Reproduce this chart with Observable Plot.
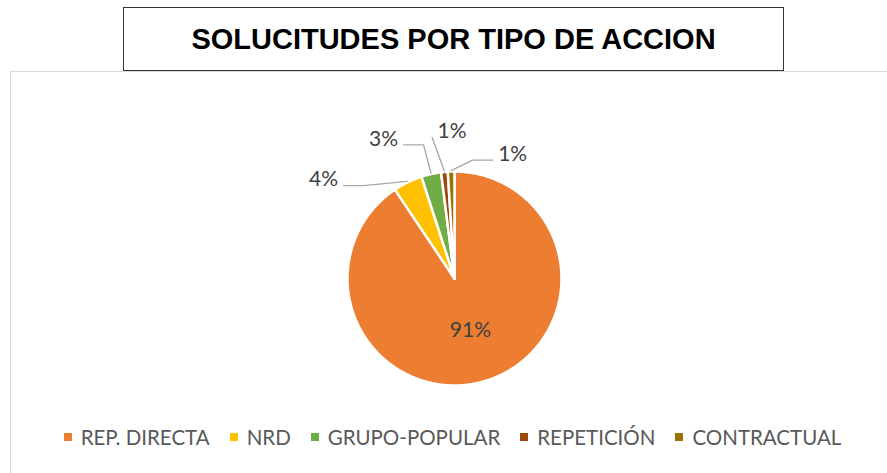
<!DOCTYPE html>
<html>
<head>
<meta charset="utf-8">
<script src="https://cdn.jsdelivr.net/npm/d3@7"></script>
<script src="https://cdn.jsdelivr.net/npm/@observablehq/plot@0.6"></script>
<style>
  body { margin: 0; background: #fff; }
  #wrap { position: relative; width: 887px; height: 473px; overflow: hidden; font-family: Lato, "Open Sans", sans-serif; }
  #frame { position: absolute; left: 10px; top: 71px; width: 900px; height: 420px; border: 1px solid #d9d9d9; box-sizing: border-box; }
  #chart { position: absolute; left: 0; top: 72px; }
  #title { position: absolute; left: 123px; top: 7px; width: 661px; height: 64px; box-sizing: border-box;
           border: 1.5px solid #333; background: #fff; display: flex; align-items: center; justify-content: center;
           font: bold 29px "Liberation Sans", Arial, sans-serif; color: #000; z-index: 2; }
  #legend { position: absolute; left: 0; top: 426px; width: 887px; display: flex; justify-content: center; gap: 20px;
            font: 20.5px Lato, sans-serif; color: #595959; line-height: 22px; padding-left: 18px; box-sizing: border-box; }
  .item { display: flex; align-items: center; white-space: nowrap; }
  .sw { width: 8px; height: 8px; margin-right: 9px; }
</style>
</head>
<body>
<div id="wrap">
  <div id="frame"></div>
  <div id="chart"></div>
  <div id="title"></div>
  <div id="legend"></div>
</div>
<script>
// ---- data ----
const titleText = "SOLUCITUDES POR TIPO DE ACCION";
const categories = ["REP. DIRECTA", "NRD", "GRUPO-POPULAR", "REPETICIÓN", "CONTRACTUAL"];
const values = [90.6, 4.4, 3.0, 1.0, 1.0];
const colors = ["#ED7D31", "#FFC000", "#70AD47", "#9E480E", "#997300"];

// ---- build ----
document.getElementById("title").textContent = titleText;

const R = 107;            // pie radius
const W = 887, H = 345;
const data = categories.map((c, i) => ({cat: c, value: values[i]}));
const total = d3.sum(values);
const arcs = d3.pie().sort(null).value(d => d.value)(data);

// slice polygons
const poly = [];
arcs.forEach(a => {
  const cat = a.data.cat;
  poly.push({cat, x: 0, y: 0});
  const n = Math.max(2, Math.ceil((a.endAngle - a.startAngle) / (Math.PI / 360)));
  for (let k = 0; k <= n; k++) {
    const t = a.startAngle + (a.endAngle - a.startAngle) * k / n;
    poly.push({cat, x: R * Math.sin(t), y: R * Math.cos(t)});
  }
  poly.push({cat, x: 0, y: 0});
});

// labels
const pct = a => Math.round(a.data.value / total * 100) + "%";
const inside = [], outside = [], leaders = [];
const small = arcs.filter(a => a.data.value / total < 0.1);
const meanMid = d3.mean(small, a => (a.startAngle + a.endAngle) / 2);
const deg = Math.PI / 180;
const sep = 26 * deg, rot = -2.5 * deg;
arcs.forEach(a => {
  const mid = (a.startAngle + a.endAngle) / 2;
  if (a.data.value / total >= 0.1) {
    inside.push({x: 0.51 * R * Math.sin(mid), y: 0.51 * R * Math.cos(mid), text: pct(a)});
  }
});
small.forEach((a, i) => {
  const mid = (a.startAngle + a.endAngle) / 2;
  const th = meanMid + rot + (i - (small.length - 1) / 2) * sep;
  const ux = Math.sin(th), uy = Math.cos(th);
  const rho = 1.37 * R + 22 * (-ux);
  const cx = ux * rho, cy = uy * rho;
  outside.push({x: cx, y: cy, text: pct(a)});
  const px = (R + 1) * Math.sin(mid), py = (R + 1) * Math.cos(mid);
  const s = Math.sign(px - cx) || 1;
  const qx = cx + s * 20, qy = cy - 6;
  const id = a.data.cat;
  leaders.push({id, x: px, y: py});
  if (Math.abs(px - qx) > 25) leaders.push({id, x: qx + s * 20, y: qy});
  leaders.push({id, x: qx, y: qy});
});

const chart = Plot.plot({
  width: W, height: H, margin: 0,
  x: {domain: [-454, W - 454], axis: null},
  y: {domain: [206 - H, 206], axis: null},
  color: {domain: categories, range: colors},
  style: {background: "transparent", overflow: "visible"},
  marks: [
    Plot.line(poly, {x: "x", y: "y", z: "cat", fill: "cat", stroke: "white", strokeWidth: 2.5, strokeLinejoin: "round"}),
    Plot.line(leaders, {x: "x", y: "y", z: "id", stroke: "#a6a6a6", strokeWidth: 1.3}),
    Plot.text(inside, {x: "x", y: "y", text: "text", fontSize: 21, fontFamily: "Lato", fill: "#404040"}),
    Plot.text(outside, {x: "x", y: "y", text: "text", fontSize: 21, fontFamily: "Lato", fill: "#404040"})
  ]
});
document.getElementById("chart").appendChild(chart);

// legend
const leg = document.getElementById("legend");
categories.forEach((c, i) => {
  const it = document.createElement("div"); it.className = "item";
  const sw = document.createElement("span"); sw.className = "sw"; sw.style.background = colors[i];
  const tx = document.createElement("span"); tx.textContent = c;
  it.appendChild(sw); it.appendChild(tx); leg.appendChild(it);
});
</script>
</body>
</html>
